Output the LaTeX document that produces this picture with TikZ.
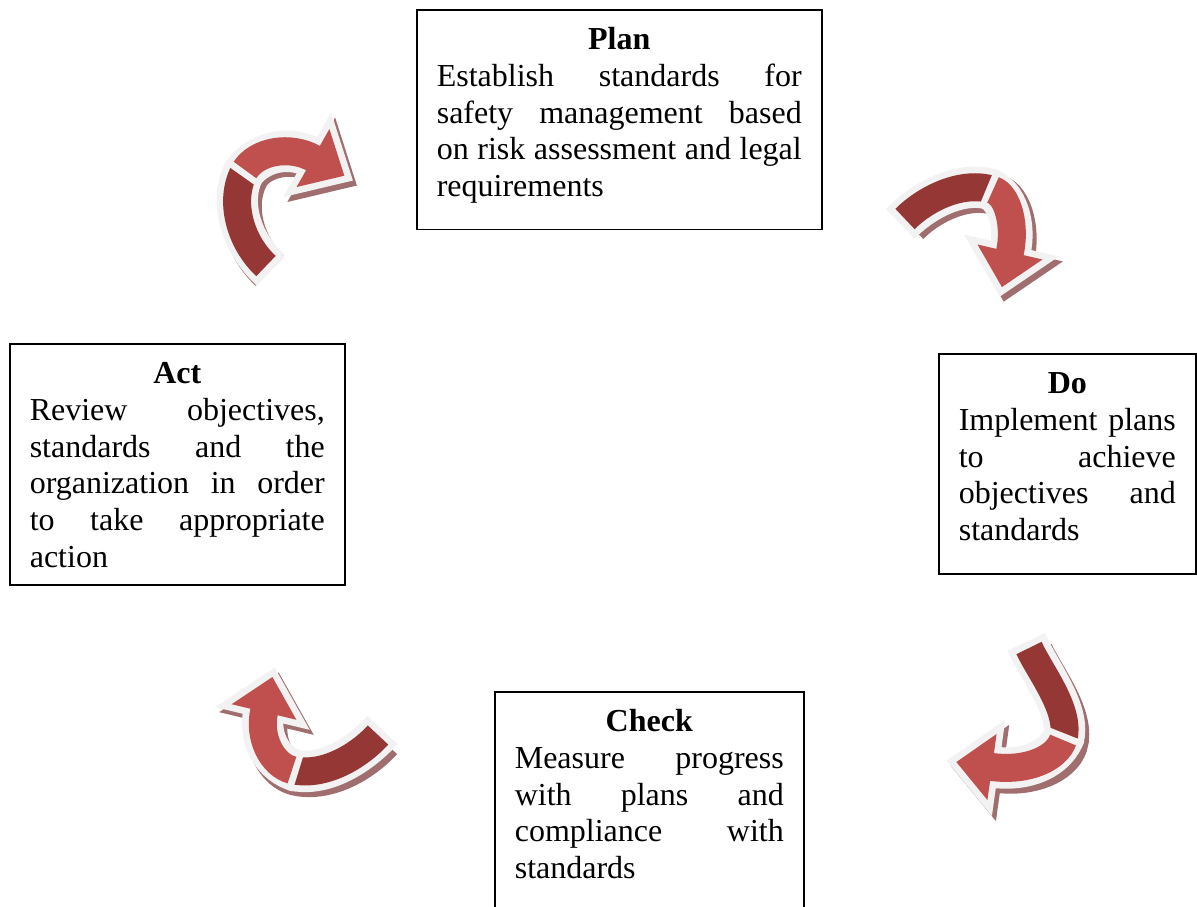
\documentclass[tikz,border=0pt]{standalone}
\usepackage{fontspec}
\setmainfont{Liberation Serif}
\usetikzlibrary{calc,positioning}
\definecolor{ribbondark}{RGB}{149,55,53}
\definecolor{ribbonlight}{RGB}{192,80,77}
\definecolor{ribbonedge}{RGB}{242,242,242}
\definecolor{ribbonshade}{RGB}{160,110,110}

\newcommand{\ttl}[1]{\makebox[\linewidth]{\rule{0pt}{30pt}\textbf{#1}}\\}
\newcommand{\jl}[1]{\makebox[\linewidth][s]{\spaceskip=0pt\xspaceskip=0pt #1}\\}
\newcommand{\lastl}[2]{#1\rule[-#2]{0pt}{#2}}

% ribbon arrow: tail, c1, c2, fold, c3, c4, head base
\newcommand{\ribbon}[7]{%
  \begin{scope}[transform canvas={shift={(3pt,-3.75pt)}}]
    \draw[ribbonshade,line width=31pt] #1 .. controls #2 and #3 .. #4 .. controls #5 and #6 .. #7;
    \filldraw[ribbonshade,line width=10pt,line join=miter] ($#7!25pt!90:#6$) -- ($#7!-27pt!#6$) -- ($#7!25pt!-90:#6$) -- cycle;
  \end{scope}
  \draw[ribbonedge,line width=31pt,shorten <=-5pt] #1 .. controls #2 and #3 .. #4;
  \draw[ribbondark,line width=21pt] #1 .. controls #2 and #3 .. #4;
  \draw[ribbonedge,line width=31pt,shorten <=-5pt] #4 .. controls #5 and #6 .. #7;
  \filldraw[ribbonedge,line width=10pt,line join=miter] ($#7!25pt!90:#6$) -- ($#7!-27pt!#6$) -- ($#7!25pt!-90:#6$) -- cycle;
  \draw[ribbonlight,line width=21pt,shorten >=-1pt] #4 .. controls #5 and #6 .. #7;
  \fill[ribbonlight] ($#7!25pt!90:#6$) -- ($#7!-27pt!#6$) -- ($#7!25pt!-90:#6$) -- cycle;
}

\begin{document}
\begin{tikzpicture}[x=0.75pt,y=-0.75pt]

  \tikzstyle{phase}=[draw=black,line width=1.2pt,anchor=north west,align=left,
                     inner xsep=15pt,inner ysep=0pt,font=\fontsize{24}{27.5}\selectfont]

  \useasboundingbox (0,0) rectangle (1197,907);

  %the four phases
  \node [phase,text width=273.75pt] (plan) at (416,9)
    {\ttl{Plan}\jl{Establish standards for}\jl{safety management based}\jl{on risk assessment and legal}\lastl{requirements}{24.75pt}};
  \node [phase,text width=162.75pt] (do) at (938,353)
    {\ttl{Do}\jl{Implement plans}\jl{to achieve}\jl{objectives and}\lastl{standards}{25pt}};
  \node [phase,text width=201.75pt] (check) at (494,691)
    {\ttl{Check}\jl{Measure progress}\jl{with plans and}\jl{compliance with}\lastl{standards}{25pt}};
  \node [phase,text width=221.25pt] (act) at (9,343)
    {\ttl{Act}\jl{Review objectives,}\jl{standards and the}\jl{organization in order}\jl{to take appropriate}\lastl{action}{13.5pt}};

  %curved arrows between the phases
  \ribbon{(266,266)}{(240,242)}{(228,200)}{(245,170)}{(257,151)}{(290,145)}{(313,158)}
  \ribbon{(905,219)}{(925,199)}{(962,180)}{(993,190)}{(1008,195)}{(1016,226)}{(1010,252)}
  \ribbon{(1029,648)}{(1040,672)}{(1072,712)}{(1063,740)}{(1057,758)}{(1028,772)}{(992,767)}
  \ribbon{(378,735)}{(357,758)}{(322,777)}{(292,770)}{(272,765)}{(258,737)}{(264,712)}

\end{tikzpicture}
\end{document}
